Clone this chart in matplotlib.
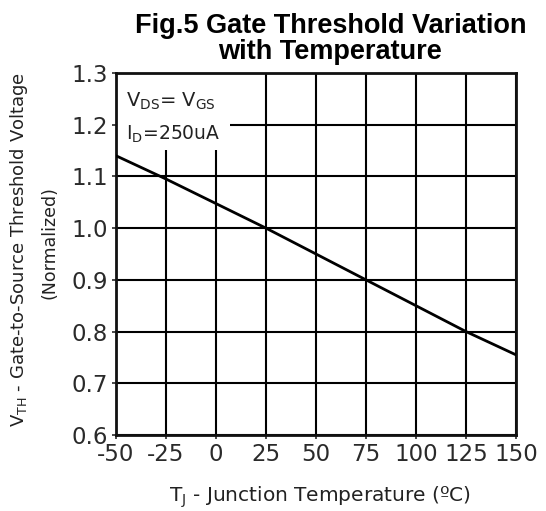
import matplotlib
matplotlib.use("Agg")
import matplotlib.pyplot as plt
from matplotlib.patches import Rectangle

temps = [-50, -25, 25, 75, 125, 150]
vth_norm = [1.14, 1.095, 1.0, 0.9, 0.8, 0.755]
x_ticks = [-50, -25, 0, 25, 50, 75, 100, 125, 150]
y_ticks = [0.6, 0.7, 0.8, 0.9, 1.0, 1.1, 1.2, 1.3]

fig = plt.figure(figsize=(5.46, 5.11), dpi=100)
ax = fig.add_axes([116/546, 1-435/511, 400/546, 362/511])
ax.set_xlim(-50, 150)
ax.set_ylim(0.6, 1.3)
ax.set_xticks(x_ticks)
ax.set_yticks(y_ticks)
ax.set_xticklabels([str(v) for v in x_ticks])
ax.set_yticklabels([f"{v:.1f}" for v in y_ticks])
ax.grid(True, color="black", linewidth=1.5, zorder=1)
ax.set_axisbelow(True)
for s in ax.spines.values():
    s.set_linewidth(2)
    s.set_color("#111")
ax.tick_params(axis="both", direction="out", length=3, width=1.2,
               labelsize=16.5, colors="#2a2a2a", pad=3)
for lab in ax.get_xticklabels() + ax.get_yticklabels():
    lab.set_family("DejaVu Sans")

# white legend box covering the grid
ax.add_patch(Rectangle((-50, 1.152), 57, 0.148, facecolor="white",
                       edgecolor="none", zorder=2))
ax.plot(temps, vth_norm, color="black", linewidth=2, zorder=3)

ax.text(0.025, 0.922, r"V$_{\rm DS}$= V$_{\rm GS}$", transform=ax.transAxes,
        fontsize=14, family="DejaVu Sans", color="#222", va="center", zorder=4)
ax.text(0.025, 0.83, r"I$_{\rm D}$=250uA", transform=ax.transAxes,
        fontsize=13.5, family="DejaVu Sans", color="#222", va="center", zorder=4)

fig.text(0.605, 0.975, "Fig.5 Gate Threshold Variation\nwith Temperature",
         ha="center", va="top", fontsize=19.5, fontweight="bold",
         family="Liberation Sans", linespacing=1.0)

fig.text(19/546, 1-250/511, r"V$_{\rm TH}$ - Gate-to-Source Threshold Voltage",
         rotation=90, ha="center", va="center", fontsize=13,
         family="DejaVu Sans", color="#222")
fig.text(50/546, 1-243/511, "(Normalized)", rotation=90, ha="center",
         va="center", fontsize=12.5, family="DejaVu Sans", color="#222")
fig.text(320/546, 1-497/511, r"T$_{\rm J}$ - Junction Temperature (ºC)",
         ha="center", va="center", fontsize=14.5, family="DejaVu Sans",
         color="#222")

fig.savefig("out.png", dpi=100)
